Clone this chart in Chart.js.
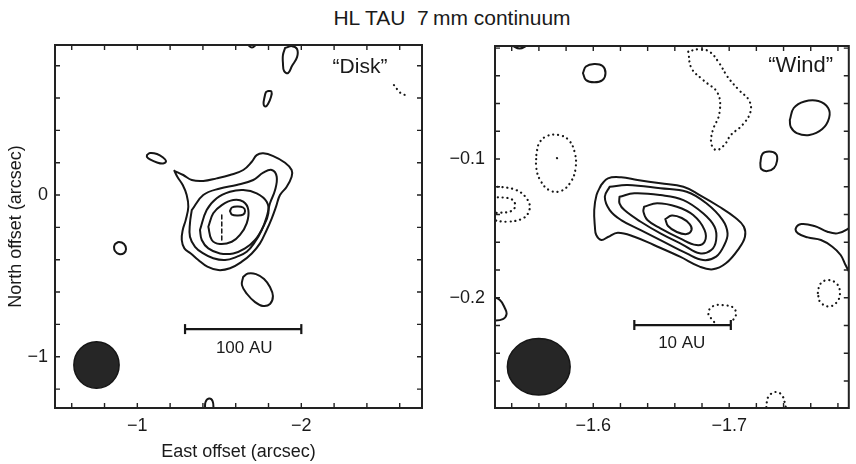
<!DOCTYPE html>
<html>
<head>
<meta charset="utf-8">
<script src="https://cdn.jsdelivr.net/npm/chart.js@4.4.0/dist/chart.umd.min.js"></script>
<style>
  html, body { margin: 0; padding: 0; background: #fff; }
  #wrap { position: relative; width: 856px; height: 464px; overflow: hidden; }
  #title { position: absolute; left: 0; top: 6px; width: 904px; text-align: center; white-space: pre;
           font: 21px "Liberation Sans", Arial, sans-serif; color: #1a1a1a; }
  #disk { position: absolute; left: 0; top: 0; }
  #wind { position: absolute; left: 440px; top: 0; }
</style>
</head>
<body>
<div id="wrap">
  <div id="title">HL TAU  7&#8201;mm continuum</div>
  <canvas id="disk" width="440" height="464"></canvas>
  <canvas id="wind" width="416" height="464"></canvas>
</div>
<script>
// offsets in arcsec (east offset, north offset)
var diskXRange = [-2.736, -0.498];
var diskYRange = [-1.317, 0.928];
var diskXTickLabels = [-1, -2];
var diskYTickLabels = [0, -1];

var windXRange = [-1.788, -1.5277];
var windYRange = [-0.2795, -0.0185];
var windXTickLabels = [-1.6, -1.7];
var windYTickLabels = [-0.1, -0.2];

// "Disk" panel contours
var diskOuter = [[-1.226,0.150],[-1.280,0.124],[-1.332,0.093],[-1.402,0.087],[-1.484,0.103],[-1.565,0.124],[-1.646,0.155],[-1.698,0.206],[-1.728,0.247],[-1.768,0.258],[-1.829,0.241],[-1.901,0.200],[-1.941,0.155],[-1.941,0.113],[-1.911,0.051],[-1.870,0],[-1.846,-0.072],[-1.820,-0.144],[-1.789,-0.216],[-1.748,-0.299],[-1.698,-0.361],[-1.637,-0.412],[-1.565,-0.453],[-1.494,-0.464],[-1.427,-0.443],[-1.372,-0.402],[-1.326,-0.361],[-1.287,-0.330],[-1.271,-0.278],[-1.277,-0.216],[-1.295,-0.155],[-1.311,-0.072],[-1.301,0],[-1.277,0.062],[-1.244,0.113],[-1.226,0.150]];
var diskLevel2 = [[-1.332,-0.093],[-1.402,0],[-1.504,0.041],[-1.606,0.062],[-1.707,0.093],[-1.768,0.138],[-1.820,0.155],[-1.850,0.113],[-1.840,0.031],[-1.809,-0.051],[-1.789,-0.134],[-1.759,-0.216],[-1.718,-0.289],[-1.667,-0.351],[-1.606,-0.382],[-1.535,-0.402],[-1.463,-0.391],[-1.402,-0.361],[-1.352,-0.320],[-1.321,-0.258],[-1.321,-0.175],[-1.332,-0.093]];
var diskLevel3 = [[-1.382,-0.216],[-1.423,-0.093],[-1.484,-0.020],[-1.565,0.020],[-1.646,0.031],[-1.728,0.011],[-1.789,-0.041],[-1.799,-0.113],[-1.768,-0.196],[-1.718,-0.278],[-1.657,-0.330],[-1.585,-0.361],[-1.504,-0.361],[-1.433,-0.330],[-1.393,-0.278],[-1.382,-0.216]];
var diskLevel4 = [[-1.433,-0.196],[-1.463,-0.113],[-1.515,-0.062],[-1.585,-0.031],[-1.646,-0.041],[-1.677,-0.093],[-1.667,-0.175],[-1.626,-0.247],[-1.576,-0.289],[-1.504,-0.303],[-1.454,-0.278],[-1.433,-0.196]];
var diskPeak = [[-1.565,-0.099],[-1.577,-0.077],[-1.611,-0.071],[-1.645,-0.077],[-1.657,-0.099],[-1.645,-0.121],[-1.611,-0.127],[-1.577,-0.121],[-1.565,-0.099]];
var diskAxis = [[-1.515,-0.124],[-1.515,-0.291]];
var diskBlobTop = [[-1.901,0.909],[-1.943,0.921],[-1.974,0.903],[-1.974,0.853],[-1.943,0.798],[-1.919,0.754],[-1.895,0.767],[-1.888,0.816],[-1.888,0.866],[-1.901,0.909]];
var diskEdgeTop = [[-1.669,0.935],[-1.699,0.912],[-1.730,0.935]];
var diskBlobNarrow = [[-1.797,0.643],[-1.818,0.640],[-1.815,0.606],[-1.797,0.563],[-1.782,0.547],[-1.770,0.563],[-1.776,0.606],[-1.785,0.637],[-1.797,0.643]];
var diskBlobWest = [[-1.059,0.247],[-1.077,0.260],[-1.120,0.254],[-1.157,0.232],[-1.175,0.210],[-1.157,0.195],[-1.120,0.201],[-1.077,0.220],[-1.059,0.235],[-1.059,0.247]];
var diskBlobSmall = [[-0.864,-0.303],[-0.888,-0.291],[-0.919,-0.303],[-0.931,-0.334],[-0.919,-0.359],[-0.888,-0.365],[-0.864,-0.346],[-0.858,-0.322],[-0.864,-0.303]];
var diskBlobSouth = [[-1.645,-0.507],[-1.675,-0.485],[-1.724,-0.489],[-1.773,-0.519],[-1.809,-0.569],[-1.827,-0.625],[-1.809,-0.674],[-1.766,-0.686],[-1.718,-0.662],[-1.669,-0.612],[-1.638,-0.557],[-1.645,-0.507]];
var diskEdgeBottom = [[-1.413,-1.325],[-1.416,-1.280],[-1.437,-1.258],[-1.459,-1.274],[-1.465,-1.325]];
var diskNegative = [[-2.565,0.680],[-2.589,0.649],[-2.614,0.625],[-2.644,0.618]];
var diskScaleBar = [[-1.291,-0.829],[-2.0,-0.829]];

// "Wind" panel contours
var windOuter = [[-1.6058,-0.1187],[-1.6108,-0.1139],[-1.6205,-0.1132],[-1.6325,-0.1151],[-1.6494,-0.1175],[-1.6663,-0.1200],[-1.6783,-0.1260],[-1.6928,-0.1344],[-1.7048,-0.1425],[-1.7108,-0.1488],[-1.7116,-0.1560],[-1.7072,-0.1644],[-1.6976,-0.1752],[-1.6880,-0.1795],[-1.6783,-0.1776],[-1.6638,-0.1704],[-1.6446,-0.1620],[-1.6302,-0.1560],[-1.6181,-0.1531],[-1.6108,-0.1562],[-1.6060,-0.1584],[-1.6022,-0.1548],[-1.6012,-0.1488],[-1.6007,-0.1368],[-1.6024,-0.1260],[-1.6058,-0.1187]];
var windLevel2 = [[-1.6121,-0.1200],[-1.6253,-0.1187],[-1.6494,-0.1211],[-1.6687,-0.1236],[-1.6832,-0.1319],[-1.6952,-0.1440],[-1.6988,-0.1536],[-1.6964,-0.1620],[-1.6904,-0.1704],[-1.6808,-0.1728],[-1.6687,-0.1680],[-1.6494,-0.1584],[-1.6349,-0.1512],[-1.6205,-0.1440],[-1.6121,-0.1368],[-1.6085,-0.1272],[-1.6121,-0.1200]];
var windLevel3 = [[-1.6193,-0.1272],[-1.6302,-0.1247],[-1.6494,-0.1260],[-1.6663,-0.1296],[-1.6808,-0.1391],[-1.6892,-0.1488],[-1.6904,-0.1584],[-1.6868,-0.1656],[-1.6783,-0.1680],[-1.6663,-0.1620],[-1.6494,-0.1536],[-1.6349,-0.1452],[-1.6229,-0.1368],[-1.6193,-0.1319],[-1.6193,-0.1272]];
var windLevel4 = [[-1.6374,-0.1344],[-1.6470,-0.1319],[-1.6615,-0.1344],[-1.6735,-0.1404],[-1.6819,-0.1512],[-1.6819,-0.1596],[-1.6759,-0.1620],[-1.6638,-0.1572],[-1.6494,-0.1500],[-1.6398,-0.1440],[-1.6369,-0.1380],[-1.6374,-0.1344]];
var windPeak = [[-1.6530,-0.1433],[-1.6578,-0.1407],[-1.6651,-0.1425],[-1.6709,-0.1469],[-1.6723,-0.1512],[-1.6687,-0.1541],[-1.6615,-0.1526],[-1.6550,-0.1483],[-1.6530,-0.1433]];
var windBlobNorth = [[-1.5924,-0.0380],[-1.5946,-0.0333],[-1.6007,-0.0315],[-1.6069,-0.0329],[-1.6090,-0.0380],[-1.6069,-0.0430],[-1.6007,-0.0447],[-1.5946,-0.0430],[-1.5924,-0.0380]];
var windEdgeTop = [[-1.5400,-0.0180],[-1.5458,-0.0203],[-1.5516,-0.0180]];
var windBlobEast = [[-1.7446,-0.0719],[-1.7475,-0.0632],[-1.7554,-0.0585],[-1.7656,-0.0582],[-1.7728,-0.0632],[-1.7735,-0.0704],[-1.7685,-0.0784],[-1.7590,-0.0827],[-1.7497,-0.0813],[-1.7453,-0.0769],[-1.7446,-0.0719]];
var windBlobSmall = [[-1.7229,-0.1029],[-1.7244,-0.0964],[-1.7294,-0.0946],[-1.7345,-0.0964],[-1.7352,-0.1014],[-1.7330,-0.1065],[-1.7280,-0.1087],[-1.7236,-0.1072],[-1.7229,-0.1029]];
var windEdgeEast = [[-1.7902,-0.1469],[-1.7868,-0.1507],[-1.7795,-0.1536],[-1.7723,-0.1524],[-1.7627,-0.1483],[-1.7531,-0.1469],[-1.7490,-0.1500],[-1.7506,-0.1536],[-1.7578,-0.1565],[-1.7675,-0.1584],[-1.7759,-0.1632],[-1.7820,-0.1692],[-1.7856,-0.1764],[-1.7887,-0.1822]];
var windEdgeWest = [[-1.5250,-0.1988],[-1.5313,-0.2017],[-1.5349,-0.2074],[-1.5362,-0.2118],[-1.5335,-0.2154],[-1.5250,-0.2168]];
var windNegLoop = [[-1.6699,-0.0226],[-1.6723,-0.0346],[-1.6808,-0.0430],[-1.6916,-0.0526],[-1.6928,-0.0671],[-1.6880,-0.0791],[-1.6868,-0.0887],[-1.6904,-0.0935],[-1.6964,-0.0899],[-1.7012,-0.0827],[-1.7097,-0.0755],[-1.7157,-0.0659],[-1.7145,-0.0575],[-1.7072,-0.0503],[-1.6988,-0.0407],[-1.6928,-0.0310],[-1.6855,-0.0226],[-1.6772,-0.0209],[-1.6699,-0.0226]];
var windNegWest = [[-1.5581,-0.0971],[-1.5602,-0.0885],[-1.5660,-0.0834],[-1.5747,-0.0827],[-1.5819,-0.0863],[-1.5863,-0.0950],[-1.5870,-0.1065],[-1.5834,-0.1166],[-1.5761,-0.1231],[-1.5675,-0.1224],[-1.5609,-0.1151],[-1.5581,-0.1065],[-1.5581,-0.0971]];
var windNegDot = [[-1.5733,-0.0993],[-1.5747,-0.1007]];
var windNegEdge = [[-1.5260,-0.1195],[-1.5434,-0.1224],[-1.5518,-0.1296],[-1.5530,-0.1368],[-1.5482,-0.1428],[-1.5362,-0.1452],[-1.5260,-0.1440]];
var windNegEdgeIn = [[-1.5260,-0.1272],[-1.5410,-0.1296],[-1.5410,-0.1368],[-1.5260,-0.1391]];
var windNegEast = [[-1.7652,-0.1966],[-1.7670,-0.1901],[-1.7728,-0.1872],[-1.7793,-0.1901],[-1.7815,-0.1966],[-1.7793,-0.2031],[-1.7735,-0.2063],[-1.7670,-0.2031],[-1.7652,-0.1966]];
var windNegBar = [[-1.6889,-0.2175],[-1.6846,-0.2110],[-1.6882,-0.2060],[-1.6954,-0.2053],[-1.7034,-0.2074],[-1.7048,-0.2132],[-1.7012,-0.2175]];
var windNegBottom = [[-1.7273,-0.2790],[-1.7287,-0.2716],[-1.7338,-0.2680],[-1.7388,-0.2702],[-1.7417,-0.2790]];
var windScaleBar = [[-1.6302,-0.2197],[-1.7012,-0.2197]];

// beams: centre and radii in arcsec
var diskBeam = { x: -0.751, y: -1.051, rx: 0.138, ry: 0.144 };
var windBeam = { x: -1.5599, y: -0.2498, rx: 0.0231, ry: 0.0204 };

var INK = '#161616';
var FONT = '"Liberation Sans", Arial, sans-serif';

function toXY(pts) {
    return pts.map(function (p) { return { x: p[0], y: p[1] }; });
}

function contour(pts, style) {
    var ds = {
        data: toXY(pts),
        showLine: true,
        tension: 0.4,
        pointRadius: 0,
        borderColor: INK,
        borderWidth: 2,
        borderCapStyle: 'round',
        borderJoinStyle: 'round',
        clip: 0,
    };
    if (style === 'dotted') {
        ds.borderDash = [0.1, 4.8];
        ds.borderWidth = 2.2;
    }
    if (style === 'dashed') {
        ds.borderDash = [4, 3];
        ds.borderWidth = 1.5;
        ds.tension = 0;
    }
    return ds;
}

function scaleBar(pts) {
    return {
        data: toXY(pts),
        showLine: true,
        tension: 0,
        borderColor: INK,
        borderWidth: 2.2,
        pointStyle: 'line',
        rotation: 90,
        pointRadius: 5,
        pointBorderWidth: 2.2,
        pointBorderColor: INK,
        clip: 0,
    };
}

function tickLabel(list, digits) {
    return function (v) {
        for (var i = 0; i < list.length; i++) {
            if (Math.abs(v - list[i]) < 1e-6) {
                var s = Math.abs(list[i]).toFixed(digits);
                return list[i] < 0 ? '\u2212' + s : s;
            }
        }
        return '';
    };
}

// box, inward tick marks, beam and text notes
var framePlugin = {
    id: 'frame',
    afterDatasetsDraw: function (chart, args, opts) {
        var ctx = chart.ctx, a = chart.chartArea;
        var x = chart.scales.x, y = chart.scales.y;
        ctx.save();

        var b = opts.beam;
        var cx = x.getPixelForValue(b.x), cy = y.getPixelForValue(b.y);
        ctx.beginPath();
        ctx.ellipse(cx, cy,
            Math.abs(x.getPixelForValue(b.x + b.rx) - cx),
            Math.abs(y.getPixelForValue(b.y + b.ry) - cy), 0, 0, Math.PI * 2);
        ctx.fillStyle = '#262626';
        ctx.fill();
        ctx.lineWidth = 1.5;
        ctx.strokeStyle = INK;
        ctx.stroke();

        ctx.fillStyle = '#1a1a1a';
        ctx.textAlign = 'center';
        ctx.textBaseline = 'middle';
        opts.notes.forEach(function (n) {
            ctx.font = n.size + 'px ' + FONT;
            ctx.fillText(n.text, x.getPixelForValue(n.x), y.getPixelForValue(n.y));
        });

        ctx.strokeStyle = '#222';
        ctx.lineWidth = 2;
        ctx.strokeRect(a.left, a.top, a.right - a.left, a.bottom - a.top);

        ctx.lineWidth = 1.4;
        ctx.beginPath();
        x.ticks.forEach(function (t) {
            var px = x.getPixelForValue(t.value);
            ctx.moveTo(px, a.bottom); ctx.lineTo(px, a.bottom - 5);
            ctx.moveTo(px, a.top); ctx.lineTo(px, a.top + 5);
        });
        y.ticks.forEach(function (t) {
            var py = y.getPixelForValue(t.value);
            ctx.moveTo(a.left, py); ctx.lineTo(a.left + 5, py);
            ctx.moveTo(a.right, py); ctx.lineTo(a.right - 5, py);
        });
        ctx.stroke();
        ctx.restore();
    },
};

function axis(range, step, labels, digits, extra) {
    var ax = {
        type: 'linear',
        min: range[0],
        max: range[1],
        grid: { display: false, drawTicks: false },
        border: { display: false },
        ticks: {
            stepSize: step,
            includeBounds: false,
            autoSkip: false,
            maxRotation: 0,
            color: '#1a1a1a',
            font: { family: FONT, size: 18 },
            callback: tickLabel(labels, digits),
        },
    };
    return Object.assign(ax, extra);
}

function panel(id, datasets, o) {
    return new Chart(document.getElementById(id), {
        type: 'scatter',
        data: { datasets: datasets },
        options: {
            responsive: false,
            animation: false,
            devicePixelRatio: 1,
            events: [],
            layout: { padding: o.padding },
            plugins: {
                legend: { display: false },
                tooltip: { enabled: false },
                frame: { beam: o.beam, notes: o.notes },
            },
            scales: { x: o.x, y: o.y },
        },
        plugins: [framePlugin],
    });
}

document.addEventListener('DOMContentLoaded', function () {
    var xDisk = axis(diskXRange, 0.2, diskXTickLabels, 0, {
        reverse: true,
        afterFit: function (s) { s.height = 56; },
        title: { display: true, text: 'East offset (arcsec)', color: '#1a1a1a',
                 font: { family: FONT, size: 18 }, padding: { top: 0, bottom: 1 } },
    });
    xDisk.ticks.padding = 7;
    var yDisk = axis(diskYRange, 0.2, diskYTickLabels, 0, {
        afterFit: function (s) { s.width = 55; },
        title: { display: true, text: 'North offset (arcsec)', color: '#1a1a1a',
                 font: { family: FONT, size: 18 }, padding: { top: 5, bottom: 0 } },
    });
    yDisk.ticks.padding = 7;

    panel('disk', [
        contour(diskOuter), contour(diskLevel2), contour(diskLevel3), contour(diskLevel4),
        contour(diskPeak), contour(diskAxis, 'dashed'),
        contour(diskBlobTop), contour(diskEdgeTop), contour(diskBlobNarrow), contour(diskBlobWest),
        contour(diskBlobSmall), contour(diskBlobSouth), contour(diskEdgeBottom),
        contour(diskNegative, 'dotted'),
        scaleBar(diskScaleBar),
    ], {
        padding: { top: 45, right: 18, left: 0, bottom: 0 },
        beam: diskBeam,
        notes: [
            { text: '\u201CDisk\u201D', x: -2.358, y: 0.788, size: 21 },
            { text: '100 AU', x: -1.652, y: -0.946, size: 17 },
        ],
        x: xDisk,
        y: yDisk,
    });

    var xWind = axis(windXRange, 0.02, windXTickLabels, 1, {
        reverse: true,
        afterFit: function (s) { s.height = 56; },
    });
    xWind.ticks.padding = 7;
    var yWind = axis(windYRange, 0.02, windYTickLabels, 1, {
        afterFit: function (s) { s.width = 55; },
    });
    yWind.ticks.padding = 10;

    panel('wind', [
        contour(windOuter), contour(windLevel2), contour(windLevel3), contour(windLevel4),
        contour(windPeak),
        contour(windBlobNorth), contour(windEdgeTop), contour(windBlobEast), contour(windBlobSmall),
        contour(windEdgeEast), contour(windEdgeWest),
        contour(windNegLoop, 'dotted'), contour(windNegWest, 'dotted'), contour(windNegDot, 'dotted'),
        contour(windNegEdge, 'dotted'), contour(windNegEdgeIn, 'dotted'), contour(windNegEast, 'dotted'),
        contour(windNegBar, 'dotted'), contour(windNegBottom, 'dotted'),
        scaleBar(windScaleBar),
    ], {
        padding: { top: 46, right: 1, left: 0, bottom: 0 },
        beam: windBeam,
        notes: [
            { text: '\u201CWind\u201D', x: -1.7526, y: -0.0329, size: 22 },
            { text: '10 AU', x: -1.6651, y: -0.2327, size: 17 },
        ],
        x: xWind,
        y: yWind,
    });
});
</script>
</body>
</html>
